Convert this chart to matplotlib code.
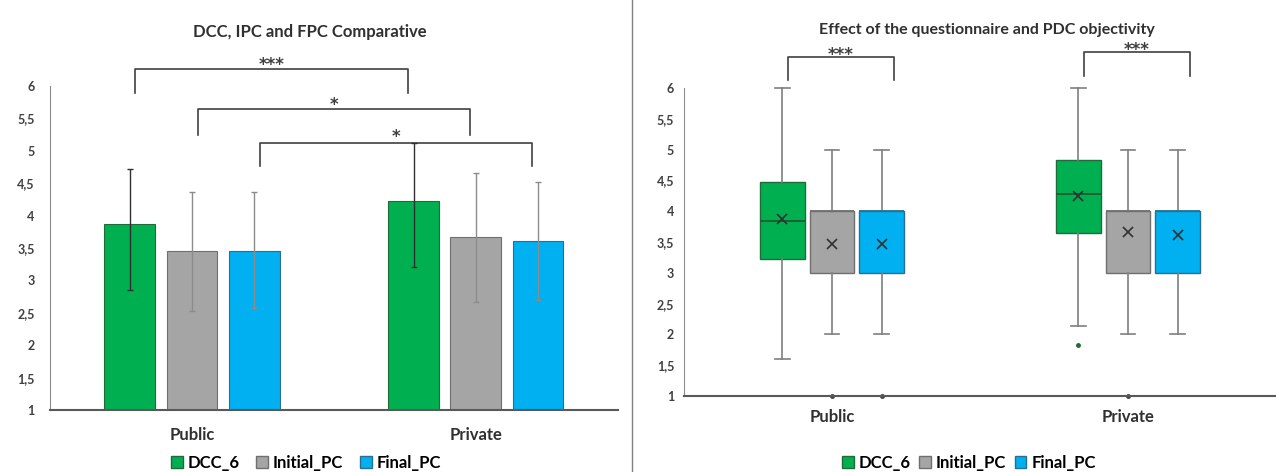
import numpy as np
import matplotlib
matplotlib.use("Agg")
import matplotlib.pyplot as plt
from matplotlib.patches import Patch
from matplotlib.lines import Line2D

plt.rcParams['font.family'] = ['Lato', 'DejaVu Sans']

groups = ["Public", "Private"]
series = ["DCC_6", "Initial_PC", "Final_PC"]
colors = ["#00B050", "#A5A5A5", "#00B0F0"]
edges = ["#1f6b3a", "#6f6f6f", "#2a6f8f"]

# left chart: means with lower / upper error extents
means = {
    "DCC_6": [3.87, 4.23],
    "Initial_PC": [3.45, 3.67],
    "Final_PC": [3.46, 3.61],
}
err_low = {
    "DCC_6": [1.02, 1.02],
    "Initial_PC": [0.92, 1.01],
    "Final_PC": [0.89, 0.91],
}
err_high = {
    "DCC_6": [0.85, 0.89],
    "Initial_PC": [0.91, 0.98],
    "Final_PC": [0.90, 0.91],
}
# (series, label, bracket top, leg end, star y) for Public vs Private
bar_sig = [("DCC_6", "***", 6.26, 5.89, 6.32),
           ("Initial_PC", "*", 5.64, 5.24, 5.71),
           ("Final_PC", "*", 5.12, 4.77, 5.21)]

# right chart: box stats per series, [Public, Private]
whislo = {"DCC_6": [1.6, 2.14], "Initial_PC": [2.0, 2.0], "Final_PC": [2.0, 2.0]}
q1 = {"DCC_6": [3.22, 3.65], "Initial_PC": [3.0, 3.0], "Final_PC": [3.0, 3.0]}
med = {"DCC_6": [3.84, 4.28], "Initial_PC": [4.0, 4.0], "Final_PC": [4.0, 4.0]}
q3 = {"DCC_6": [4.48, 4.83], "Initial_PC": [4.0, 4.0], "Final_PC": [4.0, 4.0]}
whishi = {"DCC_6": [6.0, 6.0], "Initial_PC": [5.0, 5.0], "Final_PC": [5.0, 5.0]}
box_mean = {"DCC_6": [3.87, 4.24], "Initial_PC": [3.46, 3.66], "Final_PC": [3.47, 3.61]}
fliers = {"DCC_6": [[], [1.82]], "Initial_PC": [[1.0], [1.0]], "Final_PC": [[1.0], []]}
box_sig = [(0, "***", 6.51, 6.13, 6.54), (1, "***", 6.59, 6.19, 6.62)]

yticks = [1, 1.5, 2, 2.5, 3, 3.5, 4, 4.5, 5, 5.5, 6]
ytick_labels = ["1", "1,5", "2", "2,5", "3", "3,5", "4", "4,5", "5", "5,5", "6"]

fig = plt.figure(figsize=(12.76, 4.72), dpi=100)
ax1 = fig.add_axes([0.0392, 0.1314, 0.445, 0.6864])
ax2 = fig.add_axes([0.536, 0.161, 0.464, 0.6525])

x = np.arange(len(groups))


def style_axis(ax, ypad, xpad):
    ax.set_ylim(1, 6)
    ax.set_xlim(-0.5, 1.5)
    ax.set_yticks(yticks)
    ax.set_yticklabels(ytick_labels, fontsize=9, fontweight='bold', color='#404040')
    ax.set_xticks(x)
    ax.set_xticklabels(groups, fontsize=12, fontweight='bold', color='#303030')
    ax.tick_params(axis='y', length=0, pad=ypad)
    ax.tick_params(axis='x', length=0, pad=xpad)
    for s in ["top", "right"]:
        ax.spines[s].set_visible(False)
    ax.spines["left"].set_color("#8c8c8c")
    ax.spines["bottom"].set_color("#595959")
    ax.spines["bottom"].set_linewidth(1.5)


def bracket(ax, xa, xb, top, leg, lab, ystar):
    ax.plot([xa, xa, xb, xb], [leg, top, top, leg], color='#404040', lw=1.2, clip_on=False)
    ax.text((xa + xb) / 2, ystar, lab, ha='center', va='center', fontsize=12,
            fontweight='bold', color='#404040', family='DejaVu Sans')


# ---- left: bar chart
bw = 0.179
step = 0.219
for i, s in enumerate(series):
    pos = x + (i - 1) * step
    ecol = "#303030" if s == "DCC_6" else "#8c8c8c"
    ax1.bar(pos, np.array(means[s]) - 1, bw, bottom=1, color=colors[i],
            edgecolor=edges[i], linewidth=0.8, zorder=2)
    ax1.errorbar(pos, means[s], yerr=[err_low[s], err_high[s]], fmt='none', ecolor=ecol,
                 elinewidth=1, capsize=2.5, capthick=1, zorder=3)

for s, lab, top, leg, ystar in bar_sig:
    i = series.index(s)
    xa = x[0] + (i - 1) * step + 0.02
    xb = x[1] + (i - 1) * step - 0.02
    bracket(ax1, xa, xb, top, leg, lab, ystar)

style_axis(ax1, 11, 12)
ax1.set_title("DCC, IPC and FPC Comparative", fontsize=12, fontweight='bold',
              color='#303030', pad=35, x=0.458)

# ---- right: box plot
boxw = 0.151
bstep = 0.168
for i, s in enumerate(series):
    stats = []
    for g in range(len(groups)):
        stats.append(dict(whislo=whislo[s][g], q1=q1[s][g], med=med[s][g], q3=q3[s][g],
                          whishi=whishi[s][g], mean=box_mean[s][g], fliers=fliers[s][g]))
    fc = "#1f6b3a" if s == "DCC_6" else "#404040"
    ax2.bxp(stats, positions=x + (i - 1) * bstep, widths=boxw, patch_artist=True,
            showmeans=True, showfliers=True,
            boxprops=dict(facecolor=colors[i], edgecolor=edges[i], linewidth=1),
            medianprops=dict(color="#1f5a33" if s == "DCC_6" else edges[i], linewidth=1.3),
            whiskerprops=dict(color="#7f7f7f", linewidth=1.2),
            capprops=dict(color="#7f7f7f", linewidth=1.2),
            capwidths=0.05,
            meanprops=dict(marker='x', markeredgecolor='#303030', markersize=7, markeredgewidth=1.2),
            flierprops=dict(marker='o', markerfacecolor=fc, markeredgecolor=fc, markersize=2.5),
            manage_ticks=False)
for art in ax2.lines:
    art.set_clip_on(False)

for g, lab, top, leg, ystar in box_sig:
    xa = x[g] - bstep + 0.02
    xb = x[g] + bstep + 0.04
    bracket(ax2, xa, xb, top, leg, lab, ystar)

style_axis(ax2, 7, 9)
ax2.set_title("Effect of the questionnaire and PDC objectivity", fontsize=11.5,
              fontweight='bold', color='#303030', pad=39, x=0.512)

handles = [Patch(facecolor=colors[i], edgecolor=edges[i], label=s) for i, s in enumerate(series)]
fig.legend(handles=handles, loc='center', bbox_to_anchor=(306 / 1276, 1 - 463 / 472), ncol=3,
           frameon=False, handlelength=0.7, handleheight=0.7, handletextpad=0.3,
           columnspacing=1.0, prop=dict(weight='bold', size=12))
fig.legend(handles=handles, loc='center', bbox_to_anchor=(969 / 1276, 1 - 463 / 472), ncol=3,
           frameon=False, handlelength=0.7, handleheight=0.7, handletextpad=0.3,
           columnspacing=0.5, prop=dict(weight='bold', size=12))

fig.add_artist(Line2D([632 / 1276, 632 / 1276], [0, 1], color='#7f7f7f', lw=1))

fig.savefig("out.png", dpi=100)
